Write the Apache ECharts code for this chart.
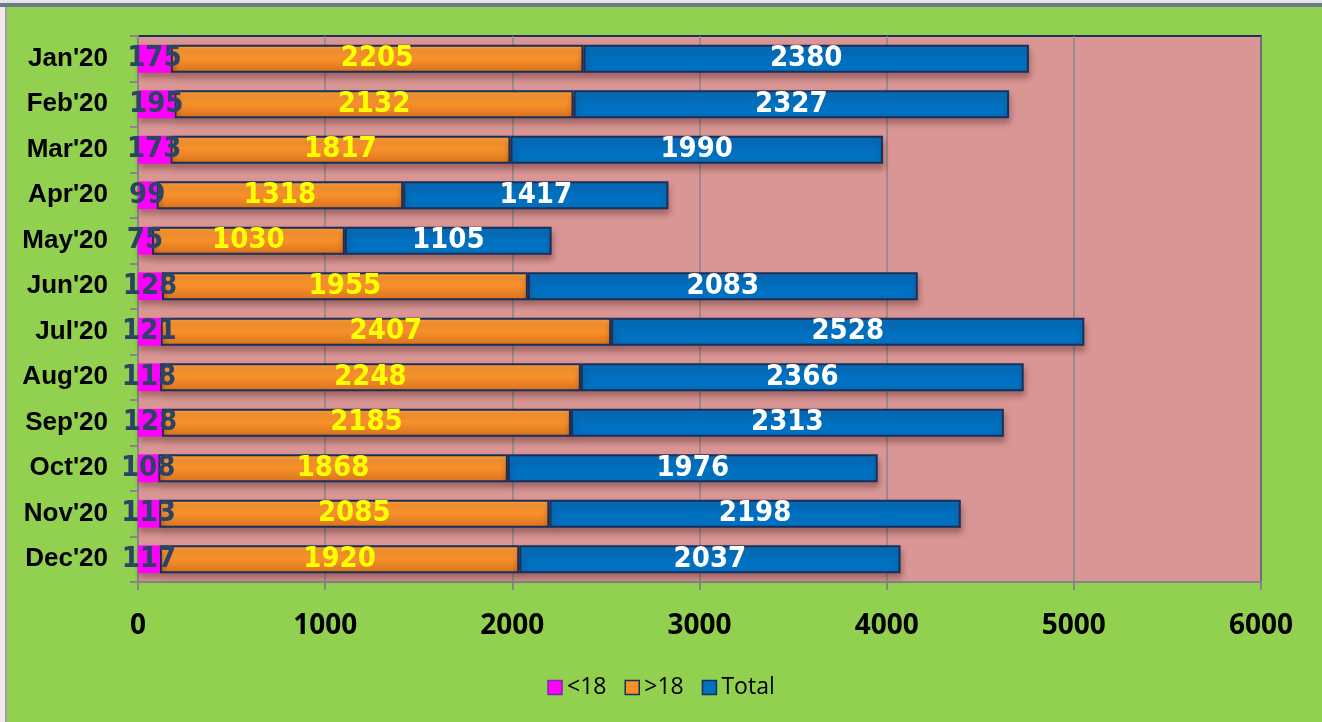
<!DOCTYPE html>
<html><head><meta charset="utf-8">
<script src="https://cdn.jsdelivr.net/npm/echarts@6/dist/echarts.min.js"></script>
<style>html,body{margin:0;padding:0;background:#f3eaea;}#c{width:1322px;height:722px;}</style>
</head><body><div id="c"></div>
<script>
const categories = ["Jan'20","Feb'20","Mar'20","Apr'20","May'20","Jun'20","Jul'20","Aug'20","Sep'20","Oct'20","Nov'20","Dec'20"];
const under18 = [175,195,173,99,75,128,121,118,128,108,113,117];
const over18 = [2205,2132,1817,1318,1030,1955,2407,2248,2185,1868,2085,1920];
const total = [2380,2327,1990,1417,1105,2083,2528,2366,2313,1976,2198,2037];
const xTicks = [0,1000,2000,3000,4000,5000,6000];

const chart = echarts.init(document.getElementById('c'), null, {renderer:'canvas'});
const labelFont = {fontFamily:"'DejaVu Sans Condensed','Liberation Sans Narrow',sans-serif", fontWeight:'bold', fontSize:29};
const shadow = {shadowColor:'rgba(60,20,20,0.35)', shadowBlur:6, shadowOffsetY:5, shadowOffsetX:1};
chart.setOption({
  backgroundColor:'#92D050',
  animation:false,
  graphic:[
    {type:'rect', shape:{x:0,y:0,width:1322,height:3}, style:{fill:'#e6e6e6'}},
    {type:'rect', shape:{x:0,y:3,width:1322,height:4}, style:{fill:'#6a7a86'}},
    {type:'rect', shape:{x:0,y:7,width:5,height:715}, style:{fill:'#f3e6e6'}},
    {type:'rect', shape:{x:5,y:7,width:2,height:715}, style:{fill:'#9aa0a6'}}
  ],
  grid:{left:138, right:61, top:36, bottom:140, show:true, backgroundColor:'#D99694', borderColor:'#1a2f5a', borderWidth:2},
  legend:{
    bottom:18, left:'center', itemWidth:14, itemHeight:14, itemGap:18,
    textStyle:{fontFamily:"'Open Sans',sans-serif", fontSize:23, color:'#000'},
    data:[
      {name:'<18', icon:'rect', itemStyle:{color:'#FF00FF', borderColor:'#7030A0', borderWidth:1.5}},
      {name:'>18', icon:'rect', itemStyle:{color:'#F7902A', borderColor:'#1a2f5a', borderWidth:1.5}},
      {name:'Total', icon:'rect', itemStyle:{color:'#0070C0', borderColor:'#1a2f5a', borderWidth:1.5}}
    ]
  },
  xAxis:{
    type:'value', min:xTicks[0], max:xTicks[xTicks.length-1], interval:1000,
    axisLine:{show:true, lineStyle:{color:'#868686', width:2}},
    axisTick:{show:true, length:8, lineStyle:{color:'#868686', width:2}},
    splitLine:{show:true, lineStyle:{color:'#868686', width:1.5}},
    axisLabel:{margin:30, color:'#000', fontFamily:"'Open Sans',sans-serif", fontWeight:'bold', fontSize:28, formatter:function(v){return String(v);}}
  },
  yAxis:{
    type:'category', data:categories, inverse:true,
    axisLine:{show:true, lineStyle:{color:'#868686', width:2}},
    axisTick:{show:true, length:8, lineStyle:{color:'#868686', width:2}},
    axisLabel:{margin:30, color:'#000', fontFamily:"'Liberation Sans',Arial,sans-serif", fontWeight:'bold', fontSize:26}
  },
  series:[
    {name:'<18', type:'bar', stack:'a', data:under18, barWidth:'61%',
     itemStyle:Object.assign({color:'#FF00FF', borderColor:'#FF00FF', borderWidth:0}, shadow),
     label:Object.assign({show:true, position:'inside', color:'#2B4466'}, labelFont), z:3},
    {name:'>18', type:'bar', stack:'a', data:over18,
     itemStyle:Object.assign({color:new echarts.graphic.LinearGradient(0,0,0,1,[{offset:0,color:'#FFA038'},{offset:0.5,color:'#F7902A'},{offset:1,color:'#D8711C'}]), borderColor:'#1a2f5a', borderWidth:2}, shadow),
     label:Object.assign({show:true, position:'inside', color:'#FFFF00'}, labelFont), z:2},
    {name:'Total', type:'bar', stack:'a', data:total,
     itemStyle:Object.assign({color:'#0070C0', borderColor:'#1a2f5a', borderWidth:2}, shadow),
     label:Object.assign({show:true, position:'inside', color:'#FFFFFF'}, labelFont), z:2}
  ]
});
</script></body></html>
